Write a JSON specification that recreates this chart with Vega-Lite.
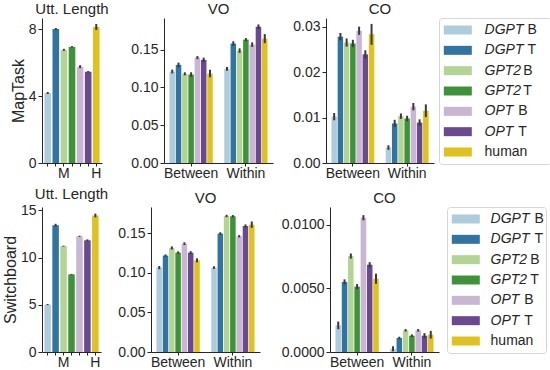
{
  "$schema": "https://vega.github.io/schema/vega-lite/v6.json",
  "padding": {"left": 2, "top": 2, "right": 0, "bottom": 0},
  "data": {"values": [
    {"ds":"MapTask","metric":"Utt","cond":"All","model":"DGPT B","value":4.18,"lo":4.12,"hi":4.24},
    {"ds":"MapTask","metric":"Utt","cond":"All","model":"DGPT T","value":8.0,"lo":7.94,"hi":8.06},
    {"ds":"MapTask","metric":"Utt","cond":"All","model":"GPT2 B","value":6.76,"lo":6.70,"hi":6.82},
    {"ds":"MapTask","metric":"Utt","cond":"All","model":"GPT2 T","value":6.94,"lo":6.90,"hi":6.98},
    {"ds":"MapTask","metric":"Utt","cond":"All","model":"OPT B","value":5.75,"lo":5.66,"hi":5.84},
    {"ds":"MapTask","metric":"Utt","cond":"All","model":"OPT T","value":5.45,"lo":5.41,"hi":5.49},
    {"ds":"MapTask","metric":"Utt","cond":"All","model":"human","value":8.12,"lo":7.94,"hi":8.30},
    {"ds":"Switchboard","metric":"Utt","cond":"All","model":"DGPT B","value":5.03,"lo":4.97,"hi":5.09},
    {"ds":"Switchboard","metric":"Utt","cond":"All","model":"DGPT T","value":13.44,"lo":13.29,"hi":13.59},
    {"ds":"Switchboard","metric":"Utt","cond":"All","model":"GPT2 B","value":11.23,"lo":11.18,"hi":11.28},
    {"ds":"Switchboard","metric":"Utt","cond":"All","model":"GPT2 T","value":8.23,"lo":8.18,"hi":8.28},
    {"ds":"Switchboard","metric":"Utt","cond":"All","model":"OPT B","value":12.27,"lo":12.21,"hi":12.33},
    {"ds":"Switchboard","metric":"Utt","cond":"All","model":"OPT T","value":11.84,"lo":11.74,"hi":11.94},
    {"ds":"Switchboard","metric":"Utt","cond":"All","model":"human","value":14.47,"lo":14.27,"hi":14.67},
    {"ds":"MapTask","metric":"VO","cond":"Between","model":"DGPT B","value":0.121,"lo":0.1185,"hi":0.1235},
    {"ds":"MapTask","metric":"VO","cond":"Between","model":"DGPT T","value":0.1298,"lo":0.1268,"hi":0.1328},
    {"ds":"MapTask","metric":"VO","cond":"Between","model":"GPT2 B","value":0.118,"lo":0.116,"hi":0.120},
    {"ds":"MapTask","metric":"VO","cond":"Between","model":"GPT2 T","value":0.117,"lo":0.114,"hi":0.120},
    {"ds":"MapTask","metric":"VO","cond":"Between","model":"OPT B","value":0.1394,"lo":0.1374,"hi":0.1414},
    {"ds":"MapTask","metric":"VO","cond":"Between","model":"OPT T","value":0.1364,"lo":0.1334,"hi":0.1394},
    {"ds":"MapTask","metric":"VO","cond":"Between","model":"human","value":0.1183,"lo":0.1133,"hi":0.1233},
    {"ds":"MapTask","metric":"VO","cond":"Within","model":"DGPT B","value":0.1245,"lo":0.122,"hi":0.127},
    {"ds":"MapTask","metric":"VO","cond":"Within","model":"DGPT T","value":0.158,"lo":0.155,"hi":0.161},
    {"ds":"MapTask","metric":"VO","cond":"Within","model":"GPT2 B","value":0.1487,"lo":0.1457,"hi":0.1517},
    {"ds":"MapTask","metric":"VO","cond":"Within","model":"GPT2 T","value":0.1632,"lo":0.1612,"hi":0.1652},
    {"ds":"MapTask","metric":"VO","cond":"Within","model":"OPT B","value":0.1566,"lo":0.1536,"hi":0.1596},
    {"ds":"MapTask","metric":"VO","cond":"Within","model":"OPT T","value":0.1803,"lo":0.1773,"hi":0.1833},
    {"ds":"MapTask","metric":"VO","cond":"Within","model":"human","value":0.1645,"lo":0.1585,"hi":0.1705},
    {"ds":"MapTask","metric":"CO","cond":"Between","model":"DGPT B","value":0.0102,"lo":0.0094,"hi":0.011},
    {"ds":"MapTask","metric":"CO","cond":"Between","model":"DGPT T","value":0.0278,"lo":0.027,"hi":0.0286},
    {"ds":"MapTask","metric":"CO","cond":"Between","model":"GPT2 B","value":0.0265,"lo":0.0256,"hi":0.0274},
    {"ds":"MapTask","metric":"CO","cond":"Between","model":"GPT2 T","value":0.0263,"lo":0.0255,"hi":0.0271},
    {"ds":"MapTask","metric":"CO","cond":"Between","model":"OPT B","value":0.0291,"lo":0.0282,"hi":0.03},
    {"ds":"MapTask","metric":"CO","cond":"Between","model":"OPT T","value":0.0239,"lo":0.023,"hi":0.0248},
    {"ds":"MapTask","metric":"CO","cond":"Between","model":"human","value":0.0283,"lo":0.026,"hi":0.0306},
    {"ds":"MapTask","metric":"CO","cond":"Within","model":"DGPT B","value":0.0034,"lo":0.0029,"hi":0.0039},
    {"ds":"MapTask","metric":"CO","cond":"Within","model":"DGPT T","value":0.0087,"lo":0.0079,"hi":0.0095},
    {"ds":"MapTask","metric":"CO","cond":"Within","model":"GPT2 B","value":0.0103,"lo":0.0097,"hi":0.0109},
    {"ds":"MapTask","metric":"CO","cond":"Within","model":"GPT2 T","value":0.0098,"lo":0.0092,"hi":0.0104},
    {"ds":"MapTask","metric":"CO","cond":"Within","model":"OPT B","value":0.0124,"lo":0.0116,"hi":0.0132},
    {"ds":"MapTask","metric":"CO","cond":"Within","model":"OPT T","value":0.0089,"lo":0.0082,"hi":0.0096},
    {"ds":"MapTask","metric":"CO","cond":"Within","model":"human","value":0.0115,"lo":0.0101,"hi":0.0129},
    {"ds":"Switchboard","metric":"VO","cond":"Between","model":"DGPT B","value":0.1065,"lo":0.1045,"hi":0.1085},
    {"ds":"Switchboard","metric":"VO","cond":"Between","model":"DGPT T","value":0.1216,"lo":0.1201,"hi":0.1231},
    {"ds":"Switchboard","metric":"VO","cond":"Between","model":"GPT2 B","value":0.1313,"lo":0.1293,"hi":0.1333},
    {"ds":"Switchboard","metric":"VO","cond":"Between","model":"GPT2 T","value":0.1254,"lo":0.1239,"hi":0.1269},
    {"ds":"Switchboard","metric":"VO","cond":"Between","model":"OPT B","value":0.1367,"lo":0.135,"hi":0.1384},
    {"ds":"Switchboard","metric":"VO","cond":"Between","model":"OPT T","value":0.1254,"lo":0.1236,"hi":0.1272},
    {"ds":"Switchboard","metric":"VO","cond":"Between","model":"human","value":0.1157,"lo":0.1132,"hi":0.1182},
    {"ds":"Switchboard","metric":"VO","cond":"Within","model":"DGPT B","value":0.1065,"lo":0.1048,"hi":0.1082},
    {"ds":"Switchboard","metric":"VO","cond":"Within","model":"DGPT T","value":0.1494,"lo":0.1477,"hi":0.1511},
    {"ds":"Switchboard","metric":"VO","cond":"Within","model":"GPT2 B","value":0.1717,"lo":0.1702,"hi":0.1732},
    {"ds":"Switchboard","metric":"VO","cond":"Within","model":"GPT2 T","value":0.1713,"lo":0.1698,"hi":0.1728},
    {"ds":"Switchboard","metric":"VO","cond":"Within","model":"OPT B","value":0.146,"lo":0.1445,"hi":0.1475},
    {"ds":"Switchboard","metric":"VO","cond":"Within","model":"OPT T","value":0.159,"lo":0.157,"hi":0.161},
    {"ds":"Switchboard","metric":"VO","cond":"Within","model":"human","value":0.1607,"lo":0.1567,"hi":0.1647},
    {"ds":"Switchboard","metric":"CO","cond":"Between","model":"DGPT B","value":0.00209,"lo":0.00179,"hi":0.00239},
    {"ds":"Switchboard","metric":"CO","cond":"Between","model":"DGPT T","value":0.0055,"lo":0.0053,"hi":0.0057},
    {"ds":"Switchboard","metric":"CO","cond":"Between","model":"GPT2 B","value":0.00753,"lo":0.00733,"hi":0.00773},
    {"ds":"Switchboard","metric":"CO","cond":"Between","model":"GPT2 T","value":0.00513,"lo":0.00493,"hi":0.00533},
    {"ds":"Switchboard","metric":"CO","cond":"Between","model":"OPT B","value":0.01054,"lo":0.01034,"hi":0.01074},
    {"ds":"Switchboard","metric":"CO","cond":"Between","model":"OPT T","value":0.00685,"lo":0.00665,"hi":0.00705},
    {"ds":"Switchboard","metric":"CO","cond":"Between","model":"human","value":0.00575,"lo":0.00535,"hi":0.00615},
    {"ds":"Switchboard","metric":"CO","cond":"Within","model":"DGPT B","value":0.00025,"lo":0.00005,"hi":0.00045},
    {"ds":"Switchboard","metric":"CO","cond":"Within","model":"DGPT T","value":0.0011,"lo":0.001,"hi":0.0012},
    {"ds":"Switchboard","metric":"CO","cond":"Within","model":"GPT2 B","value":0.0017,"lo":0.0016,"hi":0.0018},
    {"ds":"Switchboard","metric":"CO","cond":"Within","model":"GPT2 T","value":0.00128,"lo":0.00118,"hi":0.00138},
    {"ds":"Switchboard","metric":"CO","cond":"Within","model":"OPT B","value":0.0017,"lo":0.0016,"hi":0.0018},
    {"ds":"Switchboard","metric":"CO","cond":"Within","model":"OPT T","value":0.00128,"lo":0.00108,"hi":0.00148},
    {"ds":"Switchboard","metric":"CO","cond":"Within","model":"human","value":0.00136,"lo":0.00106,"hi":0.00166}
  ]},
  "config": {
    "font": "Liberation Sans",
    "view": {"stroke": null},
    "axis": {"labelFont": "Liberation Sans", "labelFontSize": 14, "labelColor": "#262626", "domainColor": "#262626", "tickColor": "#262626", "tickSize": 4, "labelPadding": 2, "grid": false, "titleFont": "Liberation Sans", "titleFontWeight": "normal", "titleFontSize": 16, "titleColor": "#262626", "titlePadding": 2},
    "axisX": {"tickSize": 3, "labelPadding": 0},
    "title": {"font": "Liberation Sans", "fontSize": 15, "fontWeight": "normal", "color": "#262626", "offset": 1}
  },
  "resolve": {"scale": {"x": "independent", "y": "independent", "xOffset": "independent"}},
  "spacing": 7,
  "vconcat": [
    {
      "spacing": 21,
      "resolve": {"scale": {"x": "independent", "y": "independent", "xOffset": "independent"}},
      "hconcat": [
        {
          "width": 60, "height": 145,
          "title": "Utt. Length",
          "transform": [{"filter": "datum.ds == 'MapTask' && datum.metric == 'Utt'"}],
          "encoding": {
            "x": {"field": "model", "type": "nominal", "sort": ["DGPT B","DGPT T","GPT2 B","GPT2 T","OPT B","OPT T","human"], "scale": {"paddingInner": 0.18, "paddingOuter": 0.3}, "axis": {"title": null, "labelAngle": 0, "labelExpr": "datum.value == 'GPT2 B' ? 'M' : datum.value == 'human' ? 'H' : ''"}}
          },
          "layer": [
            {"mark": "bar", "encoding": {
              "y": {"field": "value", "type": "quantitative", "title": "MapTask", "scale": {"domain": [0, 8.66], "nice": false, "zero": true}, "axis": {"values": [0, 2, 4, 6, 8]}},
              "color": {"field": "model", "type": "nominal", "scale": {"domain": ["DGPT B","DGPT T","GPT2 B","GPT2 T","OPT B","OPT T","human"], "range": ["#aeccdb","#3274a1","#b3d495","#40923a","#c8b6d2","#6a498e","#dfc120"]}, "legend": null}
            }},
            {"mark": {"type": "rule", "color": "#3a3a3a", "strokeWidth": 2}, "encoding": {
              "y": {"field": "lo", "type": "quantitative", "title": "MapTask"}, "y2": {"field": "hi"}
            }}
          ]
        },
        {
          "spacing": 19,
          "resolve": {"scale": {"x": "independent", "y": "independent", "xOffset": "independent"}},
          "hconcat": [
            {
              "width": 109, "height": 145,
              "title": "VO",
              "transform": [{"filter": "datum.ds == 'MapTask' && datum.metric == 'VO'"}],
              "encoding": {
                "x": {"field": "cond", "type": "nominal", "scale": {"paddingInner": 0.21, "paddingOuter": 0.1}, "axis": {"title": null, "labelAngle": 0}},
                "xOffset": {"field": "model", "type": "nominal", "sort": ["DGPT B","DGPT T","GPT2 B","GPT2 T","OPT B","OPT T","human"], "scale": {"paddingInner": 0.12}}
              },
              "layer": [
                {"mark": "bar", "encoding": {
                  "y": {"field": "value", "type": "quantitative", "title": null, "scale": {"domain": [0, 0.1918], "nice": false}, "axis": {"values": [0, 0.05, 0.1, 0.15], "format": ".2f"}},
                  "color": {"field": "model", "type": "nominal", "scale": {"domain": ["DGPT B","DGPT T","GPT2 B","GPT2 T","OPT B","OPT T","human"], "range": ["#aeccdb","#3274a1","#b3d495","#40923a","#c8b6d2","#6a498e","#dfc120"]}, "legend": null}
                }},
                {"mark": {"type": "rule", "color": "#3a3a3a", "strokeWidth": 2}, "encoding": {
                  "y": {"field": "lo", "type": "quantitative", "title": null}, "y2": {"field": "hi"}
                }}
              ]
            },
            {
              "spacing": 4,
              "resolve": {"scale": {"x": "independent", "y": "independent", "xOffset": "independent"}},
              "hconcat": [
                {
                  "width": 108, "height": 145,
                  "title": "CO",
                  "transform": [{"filter": "datum.ds == 'MapTask' && datum.metric == 'CO'"}],
                  "encoding": {
                    "x": {"field": "cond", "type": "nominal", "scale": {"paddingInner": 0.21, "paddingOuter": 0.1}, "axis": {"title": null, "labelAngle": 0}},
                    "xOffset": {"field": "model", "type": "nominal", "sort": ["DGPT B","DGPT T","GPT2 B","GPT2 T","OPT B","OPT T","human"], "scale": {"paddingInner": 0.12}}
                  },
                  "layer": [
                    {"mark": "bar", "encoding": {
                      "y": {"field": "value", "type": "quantitative", "title": null, "scale": {"domain": [0, 0.0319], "nice": false}, "axis": {"values": [0, 0.01, 0.02, 0.03], "format": ".2f"}},
                      "color": {"field": "model", "type": "nominal", "scale": {"domain": ["DGPT B","DGPT T","GPT2 B","GPT2 T","OPT B","OPT T","human"], "range": ["#aeccdb","#3274a1","#b3d495","#40923a","#c8b6d2","#6a498e","#dfc120"]}, "legend": null}
                    }},
                    {"mark": {"type": "rule", "color": "#3a3a3a", "strokeWidth": 2}, "encoding": {
                      "y": {"field": "lo", "type": "quantitative", "title": null}, "y2": {"field": "hi"}
                    }}
                  ]
                },
                {
                  "width": 112, "height": 146,
                  "view": {"stroke": "#d6d6d6", "cornerRadius": 3},
                  "data": {"values": [
                    {"model": "DGPT B", "name": "DGPT", "suffix": "B"},
                    {"model": "DGPT T", "name": "DGPT", "suffix": "T"},
                    {"model": "GPT2 B", "name": "GPT2", "suffix": "B"},
                    {"model": "GPT2 T", "name": "GPT2", "suffix": "T"},
                    {"model": "OPT B", "name": "OPT", "suffix": "B"},
                    {"model": "OPT T", "name": "OPT", "suffix": "T"},
                    {"model": "human", "name": "human", "suffix": ""}
                  ]},
                  "encoding": {
                    "y": {"field": "model", "type": "nominal", "sort": ["DGPT B","DGPT T","GPT2 B","GPT2 T","OPT B","OPT T","human"], "scale": {"type": "point", "padding": 0.59}, "axis": null}
                  },
                  "layer": [
                    {"mark": {"type": "point", "shape": "M-2.8,-0.9H2.8V0.9H-2.8Z", "filled": true, "size": 100, "opacity": 1},
                     "encoding": {
                       "x": {"datum": 0.168, "type": "quantitative", "scale": {"domain": [0, 1], "nice": false, "zero": false}, "axis": null},
                       "color": {"field": "model", "type": "nominal", "scale": {"domain": ["DGPT B","DGPT T","GPT2 B","GPT2 T","OPT B","OPT T","human"], "range": ["#aeccdb","#3274a1","#b3d495","#40923a","#c8b6d2","#6a498e","#dfc120"]}, "legend": null}
                     }},
                    {"transform": [{"filter": "datum.name != 'human'"}],
                     "mark": {"type": "text", "align": "left", "baseline": "middle", "fontSize": 14, "fontStyle": "italic", "color": "#262626"},
                     "encoding": {"x": {"datum": 0.407, "type": "quantitative"}, "text": {"field": "name"}}},
                    {"transform": [{"filter": "datum.name == 'human'"}],
                     "mark": {"type": "text", "align": "left", "baseline": "middle", "fontSize": 14, "color": "#262626"},
                     "encoding": {"x": {"datum": 0.407, "type": "quantitative"}, "text": {"field": "name"}}},
                    {"transform": [{"filter": "datum.name == 'DGPT'"}],
                     "mark": {"type": "text", "align": "left", "baseline": "middle", "fontSize": 14, "color": "#262626"},
                     "encoding": {"x": {"datum": 0.79, "type": "quantitative"}, "text": {"field": "suffix"}}},
                    {"transform": [{"filter": "datum.name == 'GPT2'"}],
                     "mark": {"type": "text", "align": "left", "baseline": "middle", "fontSize": 14, "color": "#262626"},
                     "encoding": {"x": {"datum": 0.752, "type": "quantitative"}, "text": {"field": "suffix"}}},
                    {"transform": [{"filter": "datum.name == 'OPT'"}],
                     "mark": {"type": "text", "align": "left", "baseline": "middle", "fontSize": 14, "color": "#262626"},
                     "encoding": {"x": {"datum": 0.708, "type": "quantitative"}, "text": {"field": "suffix"}}}
                  ]
                }
              ]
            }
          ]
        }
      ]
    },
    {
      "spacing": 8,
      "resolve": {"scale": {"x": "independent", "y": "independent", "xOffset": "independent"}},
      "hconcat": [
        {
          "width": 59, "height": 145,
          "title": "Utt. Length",
          "transform": [{"filter": "datum.ds == 'Switchboard' && datum.metric == 'Utt'"}],
          "encoding": {
            "x": {"field": "model", "type": "nominal", "sort": ["DGPT B","DGPT T","GPT2 B","GPT2 T","OPT B","OPT T","human"], "scale": {"paddingInner": 0.18, "paddingOuter": 0.3}, "axis": {"title": null, "labelAngle": 0, "labelExpr": "datum.value == 'GPT2 B' ? 'M' : datum.value == 'human' ? 'H' : ''"}}
          },
          "layer": [
            {"mark": "bar", "encoding": {
              "y": {"field": "value", "type": "quantitative", "title": "Switchboard", "scale": {"domain": [0, 15.37], "nice": false}, "axis": {"values": [0, 5, 10, 15]}},
              "color": {"field": "model", "type": "nominal", "scale": {"domain": ["DGPT B","DGPT T","GPT2 B","GPT2 T","OPT B","OPT T","human"], "range": ["#aeccdb","#3274a1","#b3d495","#40923a","#c8b6d2","#6a498e","#dfc120"]}, "legend": null}
            }},
            {"mark": {"type": "rule", "color": "#3a3a3a", "strokeWidth": 2}, "encoding": {
              "y": {"field": "lo", "type": "quantitative", "title": "Switchboard"}, "y2": {"field": "hi"}
            }}
          ]
        },
        {
          "spacing": 21,
          "resolve": {"scale": {"x": "independent", "y": "independent", "xOffset": "independent"}},
          "hconcat": [
            {
              "width": 109, "height": 145,
              "title": "VO",
              "transform": [{"filter": "datum.ds == 'Switchboard' && datum.metric == 'VO'"}],
              "encoding": {
                "x": {"field": "cond", "type": "nominal", "scale": {"paddingInner": 0.21, "paddingOuter": 0.1}, "axis": {"title": null, "labelAngle": 0}},
                "xOffset": {"field": "model", "type": "nominal", "sort": ["DGPT B","DGPT T","GPT2 B","GPT2 T","OPT B","OPT T","human"], "scale": {"paddingInner": 0.12}}
              },
              "layer": [
                {"mark": "bar", "encoding": {
                  "y": {"field": "value", "type": "quantitative", "title": null, "scale": {"domain": [0, 0.183], "nice": false}, "axis": {"values": [0, 0.05, 0.1, 0.15], "format": ".2f"}},
                  "color": {"field": "model", "type": "nominal", "scale": {"domain": ["DGPT B","DGPT T","GPT2 B","GPT2 T","OPT B","OPT T","human"], "range": ["#aeccdb","#3274a1","#b3d495","#40923a","#c8b6d2","#6a498e","#dfc120"]}, "legend": null}
                }},
                {"mark": {"type": "rule", "color": "#3a3a3a", "strokeWidth": 2}, "encoding": {
                  "y": {"field": "lo", "type": "quantitative", "title": null}, "y2": {"field": "hi"}
                }}
              ]
            },
            {
              "spacing": 7,
              "resolve": {"scale": {"x": "independent", "y": "independent", "xOffset": "independent"}},
              "hconcat": [
                {
                  "width": 109, "height": 145,
                  "title": "CO",
                  "transform": [{"filter": "datum.ds == 'Switchboard' && datum.metric == 'CO'"}],
                  "encoding": {
                    "x": {"field": "cond", "type": "nominal", "scale": {"paddingInner": 0.21, "paddingOuter": 0.1}, "axis": {"title": null, "labelAngle": 0}},
                    "xOffset": {"field": "model", "type": "nominal", "sort": ["DGPT B","DGPT T","GPT2 B","GPT2 T","OPT B","OPT T","human"], "scale": {"paddingInner": 0.12}}
                  },
                  "layer": [
                    {"mark": "bar", "encoding": {
                      "y": {"field": "value", "type": "quantitative", "title": null, "scale": {"domain": [0, 0.01138], "nice": false}, "axis": {"values": [0, 0.0025, 0.005, 0.0075, 0.01], "format": ".4f"}},
                      "color": {"field": "model", "type": "nominal", "scale": {"domain": ["DGPT B","DGPT T","GPT2 B","GPT2 T","OPT B","OPT T","human"], "range": ["#aeccdb","#3274a1","#b3d495","#40923a","#c8b6d2","#6a498e","#dfc120"]}, "legend": null}
                    }},
                    {"mark": {"type": "rule", "color": "#3a3a3a", "strokeWidth": 2}, "encoding": {
                      "y": {"field": "lo", "type": "quantitative", "title": null}, "y2": {"field": "hi"}
                    }}
                  ]
                },
                {
                  "width": 99, "height": 146,
                  "view": {"stroke": "#d6d6d6", "cornerRadius": 3},
                  "data": {"values": [
                    {"model": "DGPT B", "name": "DGPT", "suffix": "B"},
                    {"model": "DGPT T", "name": "DGPT", "suffix": "T"},
                    {"model": "GPT2 B", "name": "GPT2", "suffix": "B"},
                    {"model": "GPT2 T", "name": "GPT2", "suffix": "T"},
                    {"model": "OPT B", "name": "OPT", "suffix": "B"},
                    {"model": "OPT T", "name": "OPT", "suffix": "T"},
                    {"model": "human", "name": "human", "suffix": ""}
                  ]},
                  "encoding": {
                    "y": {"field": "model", "type": "nominal", "sort": ["DGPT B","DGPT T","GPT2 B","GPT2 T","OPT B","OPT T","human"], "scale": {"type": "point", "padding": 0.59}, "axis": null}
                  },
                  "layer": [
                    {"mark": {"type": "point", "shape": "M-2.8,-0.9H2.8V0.9H-2.8Z", "filled": true, "size": 100, "opacity": 1},
                     "encoding": {
                       "x": {"datum": 0.19, "type": "quantitative", "scale": {"domain": [0, 1], "nice": false, "zero": false}, "axis": null},
                       "color": {"field": "model", "type": "nominal", "scale": {"domain": ["DGPT B","DGPT T","GPT2 B","GPT2 T","OPT B","OPT T","human"], "range": ["#aeccdb","#3274a1","#b3d495","#40923a","#c8b6d2","#6a498e","#dfc120"]}, "legend": null}
                     }},
                    {"transform": [{"filter": "datum.name != 'human'"}],
                     "mark": {"type": "text", "align": "left", "baseline": "middle", "fontSize": 14, "fontStyle": "italic", "color": "#262626"},
                     "encoding": {"x": {"datum": 0.44, "type": "quantitative"}, "text": {"field": "name"}}},
                    {"transform": [{"filter": "datum.name == 'human'"}],
                     "mark": {"type": "text", "align": "left", "baseline": "middle", "fontSize": 14, "color": "#262626"},
                     "encoding": {"x": {"datum": 0.44, "type": "quantitative"}, "text": {"field": "name"}}},
                    {"transform": [{"filter": "datum.name == 'DGPT'"}],
                     "mark": {"type": "text", "align": "left", "baseline": "middle", "fontSize": 14, "color": "#262626"},
                     "encoding": {"x": {"datum": 0.885, "type": "quantitative"}, "text": {"field": "suffix"}}},
                    {"transform": [{"filter": "datum.name == 'GPT2'"}],
                     "mark": {"type": "text", "align": "left", "baseline": "middle", "fontSize": 14, "color": "#262626"},
                     "encoding": {"x": {"datum": 0.84, "type": "quantitative"}, "text": {"field": "suffix"}}},
                    {"transform": [{"filter": "datum.name == 'OPT'"}],
                     "mark": {"type": "text", "align": "left", "baseline": "middle", "fontSize": 14, "color": "#262626"},
                     "encoding": {"x": {"datum": 0.78, "type": "quantitative"}, "text": {"field": "suffix"}}}
                  ]
                }
              ]
            }
          ]
        }
      ]
    }
  ]
}
